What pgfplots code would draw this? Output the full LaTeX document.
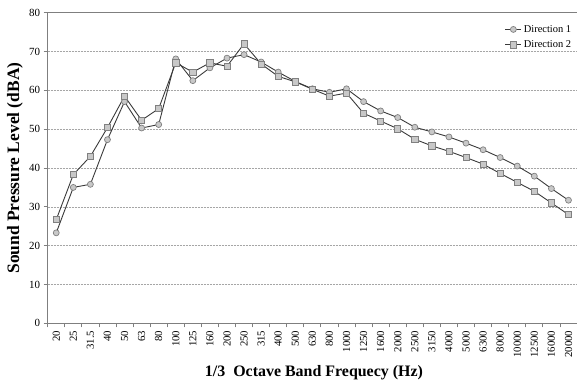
\documentclass[border=0pt]{standalone}
\usepackage{fontspec}
\setmainfont{Liberation Serif}
\usepackage{pgfplots}
\pgfplotsset{compat=1.18}
\definecolor{lineC}{HTML}{3A3A3A}
\definecolor{markF}{HTML}{C8C8C8}
\definecolor{markD}{HTML}{808080}
\definecolor{axC}{HTML}{7F7F7F}
\definecolor{gridC}{HTML}{A6A6A6}
\begin{document}
\begin{tikzpicture}[x=1bp,y=1bp]
\begin{axis}[
  at={(47.7bp,58.7bp)}, anchor=south west,
  scale only axis, width=529.3bp, height=310.6bp,
  xmin=-0.5, xmax=30.5, ymin=0, ymax=80,
  axis x line*=bottom, axis y line*=left,
  axis line style={axC, line width=1.3bp, -},
  /pgf/number format/assume math mode=true,
  tick align=outside,
  major tick length=4bp, minor tick length=4bp,
  xtick={0,...,30},
  xticklabels={20,25,31.5,40,50,63,80,100,125,160,200,250,315,400,500,630,800,1000,1250,1600,2000,2500,3150,4000,5000,6300,8000,10000,12500,16000,20000},
  x tick label style={rotate=90, anchor=east, font=\fontsize{10.8}{12}\selectfont},
  major x tick style={draw=none},
  minor xtick={-0.5,0.5,...,30.5},
  minor x tick style={axC, line width=0.8bp},
  ytick={0,10,...,70},
  extra y ticks={80},
  extra y tick style={ymajorgrids=true, major grid style={axC, solid, line width=1bp}},
  y tick style={axC, line width=0.8bp},
  y tick label style={font=\fontsize{11}{12}\selectfont},
  ymajorgrids,
  major grid style={gridC, dash pattern=on 2bp off 1bp, line width=0.6bp},
  xlabel={1/3~ Octave Band Frequecy (Hz)},
  ylabel={Sound Pressure Level (dBA)},
  xlabel style={at={(axis description cs:0.503,-0.158)}, anchor=center, font=\fontsize{16}{18}\bfseries},
  ylabel style={at={(axis description cs:-0.0618,0.5)}, anchor=center, font=\fontsize{17.5}{19}\bfseries},
  legend style={at={(axis description cs:0.995,0.97)}, anchor=north east, draw=none, fill=none,
    font=\fontsize{10.5}{12}\selectfont, row sep=3bp, inner sep=1bp},
  legend cell align=left,
  legend image code/.code={\draw[mark repeat=2,mark phase=2,#1] plot coordinates {(0bp,0bp) (8bp,0bp) (16bp,0bp)};},
  clip=false,
]
\addplot[lineC, line width=0.9bp, mark=*, mark size=3bp, mark options={fill=markF, draw=markD, line width=0.7bp}]
coordinates {(0,23.3)(1,35.0)(2,35.8)(3,47.3)(4,57.1)(5,50.3)(6,51.2)(7,68.1)(8,62.5)(9,65.8)(10,68.3)(11,69.2)(12,67.3)(13,64.7)(14,62.3)(15,60.4)(16,59.5)(17,60.4)(18,57.1)(19,54.7)(20,53.0)(21,50.5)(22,49.3)(23,48.0)(24,46.4)(25,44.7)(26,42.7)(27,40.5)(28,37.9)(29,34.7)(30,31.7)};
\addlegendentry{Direction 1}
\addplot[lineC, line width=0.9bp, mark=square*, mark size=3.1bp, mark options={fill=markF, draw=markD, line width=0.7bp}]
coordinates {(0,26.7)(1,38.3)(2,43.0)(3,50.4)(4,58.5)(5,52.3)(6,55.3)(7,67.1)(8,64.7)(9,67.1)(10,66.2)(11,72.0)(12,66.8)(13,63.6)(14,62.2)(15,60.3)(16,58.5)(17,59.3)(18,54.1)(19,52.1)(20,50.1)(21,47.4)(22,45.7)(23,44.3)(24,42.7)(25,41.0)(26,38.6)(27,36.3)(28,34.0)(29,31.0)(30,28.0)};
\addlegendentry{Direction 2}
\end{axis}
\pgfresetboundingbox
\path[use as bounding box] (0,0) rectangle (577,382);
\end{tikzpicture}
\end{document}
